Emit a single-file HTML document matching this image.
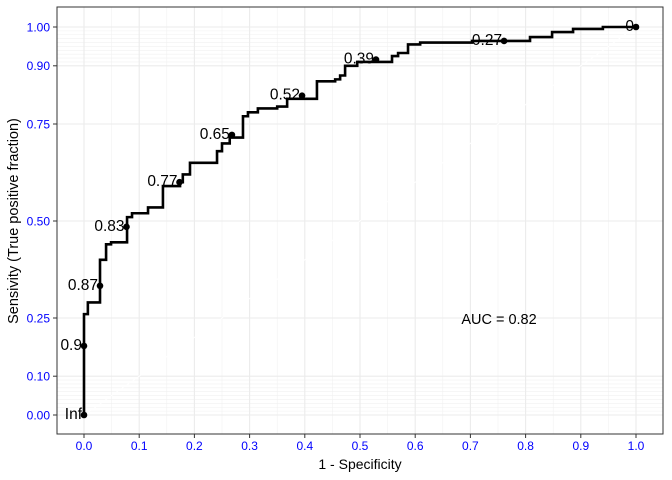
<!DOCTYPE html>
<html><head><meta charset="utf-8"><style>
body{margin:0;background:#fff;}
svg{display:block;font-family:"Liberation Sans",sans-serif;}
</style></head><body>
<svg id="chart" width="672" height="480">
<rect x="0" y="0" width="672" height="480" fill="#fff"/>
<g id="grid"></g>
<g id="curve"></g>
<g id="axes"></g>
<rect x="57" y="7" width="606" height="427" fill="none" stroke="#333" stroke-width="1"/>
<text x="499" y="324" font-size="14.5" text-anchor="middle">AUC = 0.82</text>
<text x="360" y="469" font-size="14" text-anchor="middle">1 - Specificity</text>
<text x="18" y="221" font-size="14.5" text-anchor="middle" transform="rotate(-90 18 221)">Sensivity (True positive fraction)</text>
</svg>
<script>
const fprSteps = [0,0.007,0.029,0.04,0.049,0.078,0.087,0.116,0.143,0.174,0.179,0.192,0.241,0.25,0.264,0.288,0.297,0.315,0.35,0.368,0.422,0.455,0.464,0.473,0.495,0.558,0.569,0.587,0.609,0.703,0.808,0.848,0.886,0.94,1.0];
const tprSteps = [0.26,0.29,0.40,0.44,0.445,0.51,0.52,0.535,0.59,0.60,0.62,0.65,0.68,0.70,0.715,0.77,0.78,0.79,0.795,0.815,0.86,0.865,0.875,0.90,0.91,0.925,0.933,0.955,0.96,0.964,0.974,0.987,0.995,1.0,1.0];
const cutLabels = ["Inf","0.9","0.87","0.83","0.77","0.65","0.52","0.39","0.27","0"];
const cutFpr = [0,0,0.029,0.077,0.173,0.268,0.395,0.529,0.761,1.0];
const cutTpr = [0,0.178,0.333,0.485,0.60,0.722,0.823,0.916,0.964,1.0];
const xTicks = [0,0.1,0.2,0.3,0.4,0.5,0.6,0.7,0.8,0.9,1.0];
const xTickLabels = ["0.0","0.1","0.2","0.3","0.4","0.5","0.6","0.7","0.8","0.9","1.0"];
const yTicks = [0,0.1,0.25,0.5,0.75,0.9,1.0];
const yTickLabels = ["0.00","0.10","0.25","0.50","0.75","0.90","1.00"];

const NS="http://www.w3.org/2000/svg";
const X=v=>84+552*v, Y=v=>415-388*v;
function mk(tag,attrs,parent){const e=document.createElementNS(NS,tag);for(const k in attrs)e.setAttribute(k,attrs[k]);parent.appendChild(e);return e;}
const grid=document.getElementById('grid'),curve=document.getElementById('curve'),axes=document.getElementById('axes');
for(let i=0;i<10;i++){const v=0.05+0.1*i;const l=mk('line',{x1:X(v),x2:X(v),y1:7,y2:434,stroke:'#f2f2f2','stroke-width':0.6},grid);

}
for(let i=1;i<10;i++){[0.01*i,0.9+0.01*i].forEach(v=>{const l=mk('line',{x1:57,x2:663,y1:Y(v),y2:Y(v),stroke:'#f0f0f0','stroke-width':0.6},grid);

});}
xTicks.forEach((v,i)=>{const l=mk('line',{x1:X(v),x2:X(v),y1:7,y2:434,stroke:'#ebebeb','stroke-width':1.1},grid);


const t=mk('line',{x1:X(v),x2:X(v),y1:434,y2:438,stroke:'#333','stroke-width':1},axes);


const tx=mk('text',{x:X(v),y:450,'font-size':12,fill:'#0000ff','text-anchor':'middle'},axes);tx.textContent=xTickLabels[i];

});
yTicks.forEach((v,i)=>{const l=mk('line',{x1:57,x2:663,y1:Y(v),y2:Y(v),stroke:'#ebebeb','stroke-width':1.1},grid);


const t=mk('line',{x1:53,x2:57,y1:Y(v),y2:Y(v),stroke:'#333','stroke-width':1},axes);


const tx=mk('text',{x:50,y:Y(v)+4.3,'font-size':12,fill:'#0000ff','text-anchor':'end'},axes);tx.textContent=yTickLabels[i];

});
const dg=mk('line',{x1:X(0),y1:Y(0),x2:X(1),y2:Y(1),stroke:'#fff','stroke-width':1},grid);


let d=`M${X(0)},${Y(0)}`;
fprSteps.forEach((f,i)=>{d+=` H${X(f)} V${Y(tprSteps[i])}`;});
d+=` H${X(1)}`;
const p=mk('path',{d:d,fill:'none',stroke:'#000','stroke-width':2.6},curve);


cutLabels.forEach((lab,i)=>{const c=mk('circle',{cx:X(cutFpr[i]),cy:Y(cutTpr[i]),r:3.3,fill:'#000'},curve);


const t=mk('text',{x:X(cutFpr[i])-2,y:Y(cutTpr[i])+4,'font-size':15.5,'text-anchor':'end'},curve);t.textContent=lab;

});
</script>
</body></html>
